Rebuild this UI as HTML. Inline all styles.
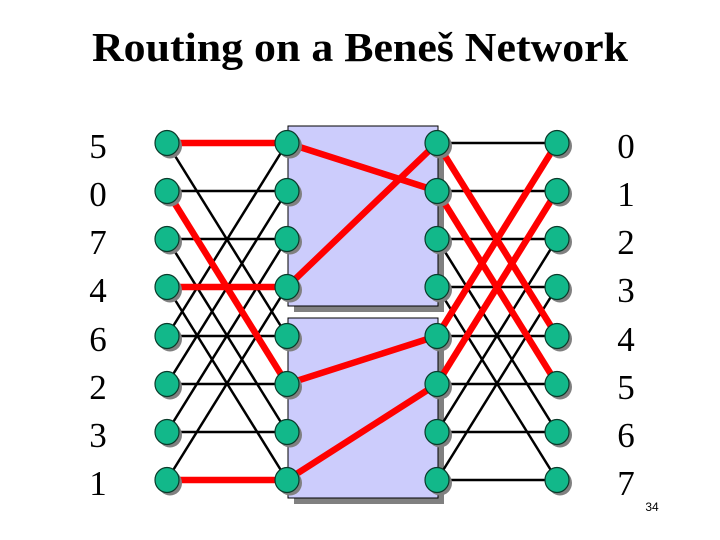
<!DOCTYPE html>
<html><head><meta charset="utf-8"><style>
html,body{margin:0;padding:0;background:#fff;}
svg{display:block;}
</style></head><body>
<svg width="720" height="540" viewBox="0 0 720 540" xmlns="http://www.w3.org/2000/svg">
<text x="360" y="61" text-anchor="middle" font-family="Liberation Serif, serif" font-weight="bold" font-size="41" textLength="536" lengthAdjust="spacingAndGlyphs">Routing on a Beneš Network</text>
<rect x="294" y="132" width="150" height="180" fill="#808080"/>
<rect x="288" y="126" width="150" height="180" fill="#ccccfc" stroke="#000" stroke-width="1"/>
<rect x="294" y="324" width="150" height="180" fill="#808080"/>
<rect x="288" y="318" width="150" height="180" fill="#ccccfc" stroke="#000" stroke-width="1"/>
<g stroke="#000" stroke-width="2.5">
<line x1="167" y1="143" x2="287" y2="143"/><line x1="167" y1="143" x2="287" y2="336"/>
<line x1="167" y1="191" x2="287" y2="191"/><line x1="167" y1="191" x2="287" y2="384"/>
<line x1="167" y1="239" x2="287" y2="239"/><line x1="167" y1="239" x2="287" y2="432"/>
<line x1="167" y1="287" x2="287" y2="287"/><line x1="167" y1="287" x2="287" y2="480"/>
<line x1="167" y1="336" x2="287" y2="336"/><line x1="167" y1="336" x2="287" y2="143"/>
<line x1="167" y1="384" x2="287" y2="384"/><line x1="167" y1="384" x2="287" y2="191"/>
<line x1="167" y1="432" x2="287" y2="432"/><line x1="167" y1="432" x2="287" y2="239"/>
<line x1="167" y1="480" x2="287" y2="480"/><line x1="167" y1="480" x2="287" y2="287"/>
<line x1="437" y1="143" x2="557" y2="143"/><line x1="437" y1="143" x2="557" y2="336"/>
<line x1="437" y1="191" x2="557" y2="191"/><line x1="437" y1="191" x2="557" y2="384"/>
<line x1="437" y1="239" x2="557" y2="239"/><line x1="437" y1="239" x2="557" y2="432"/>
<line x1="437" y1="287" x2="557" y2="287"/><line x1="437" y1="287" x2="557" y2="480"/>
<line x1="437" y1="336" x2="557" y2="336"/><line x1="437" y1="336" x2="557" y2="143"/>
<line x1="437" y1="384" x2="557" y2="384"/><line x1="437" y1="384" x2="557" y2="191"/>
<line x1="437" y1="432" x2="557" y2="432"/><line x1="437" y1="432" x2="557" y2="239"/>
<line x1="437" y1="480" x2="557" y2="480"/><line x1="437" y1="480" x2="557" y2="287"/>
</g>
<g stroke="#ff0000" stroke-width="6.5">
<line x1="167" y1="143" x2="287" y2="143"/>
<line x1="167" y1="191" x2="287" y2="384"/>
<line x1="167" y1="287" x2="287" y2="287"/>
<line x1="167" y1="480" x2="287" y2="480"/>
<line x1="287" y1="143" x2="437" y2="191"/>
<line x1="287" y1="287" x2="437" y2="143"/>
<line x1="287" y1="384" x2="437" y2="336"/>
<line x1="287" y1="480" x2="437" y2="384"/>
<line x1="437" y1="143" x2="557" y2="336"/>
<line x1="437" y1="191" x2="557" y2="384"/>
<line x1="437" y1="336" x2="557" y2="143"/>
<line x1="437" y1="384" x2="557" y2="191"/>
</g>
<defs>
<g id="n"><ellipse cx="3" cy="3" rx="12" ry="12.5" fill="#808080"/><ellipse cx="0" cy="0" rx="12" ry="12.5" fill="#12b88a" stroke="#0a3a2a" stroke-width="1.2"/></g>
</defs>
<g>
<use href="#n" x="167" y="143"/><use href="#n" x="167" y="191"/><use href="#n" x="167" y="239"/><use href="#n" x="167" y="287"/><use href="#n" x="167" y="336"/><use href="#n" x="167" y="384"/><use href="#n" x="167" y="432"/><use href="#n" x="167" y="480"/>
<use href="#n" x="287" y="143"/><use href="#n" x="287" y="191"/><use href="#n" x="287" y="239"/><use href="#n" x="287" y="287"/><use href="#n" x="287" y="336"/><use href="#n" x="287" y="384"/><use href="#n" x="287" y="432"/><use href="#n" x="287" y="480"/>
<use href="#n" x="437" y="143"/><use href="#n" x="437" y="191"/><use href="#n" x="437" y="239"/><use href="#n" x="437" y="287"/><use href="#n" x="437" y="336"/><use href="#n" x="437" y="384"/><use href="#n" x="437" y="432"/><use href="#n" x="437" y="480"/>
<use href="#n" x="557" y="143"/><use href="#n" x="557" y="191"/><use href="#n" x="557" y="239"/><use href="#n" x="557" y="287"/><use href="#n" x="557" y="336"/><use href="#n" x="557" y="384"/><use href="#n" x="557" y="432"/><use href="#n" x="557" y="480"/>
</g>
<g font-family="Liberation Serif, serif" font-size="35" text-anchor="middle">
<text x="98" y="158">5</text><text x="98" y="206">0</text><text x="98" y="254">7</text><text x="98" y="302">4</text><text x="98" y="351">6</text><text x="98" y="399">2</text><text x="98" y="447">3</text><text x="98" y="495">1</text>
<text x="626" y="158">0</text><text x="626" y="206">1</text><text x="626" y="254">2</text><text x="626" y="302">3</text><text x="626" y="351">4</text><text x="626" y="399">5</text><text x="626" y="447">6</text><text x="626" y="495">7</text>
</g>
<text x="652" y="511" text-anchor="middle" font-family="Liberation Sans, sans-serif" font-size="12">34</text>
</svg>
</body></html>
